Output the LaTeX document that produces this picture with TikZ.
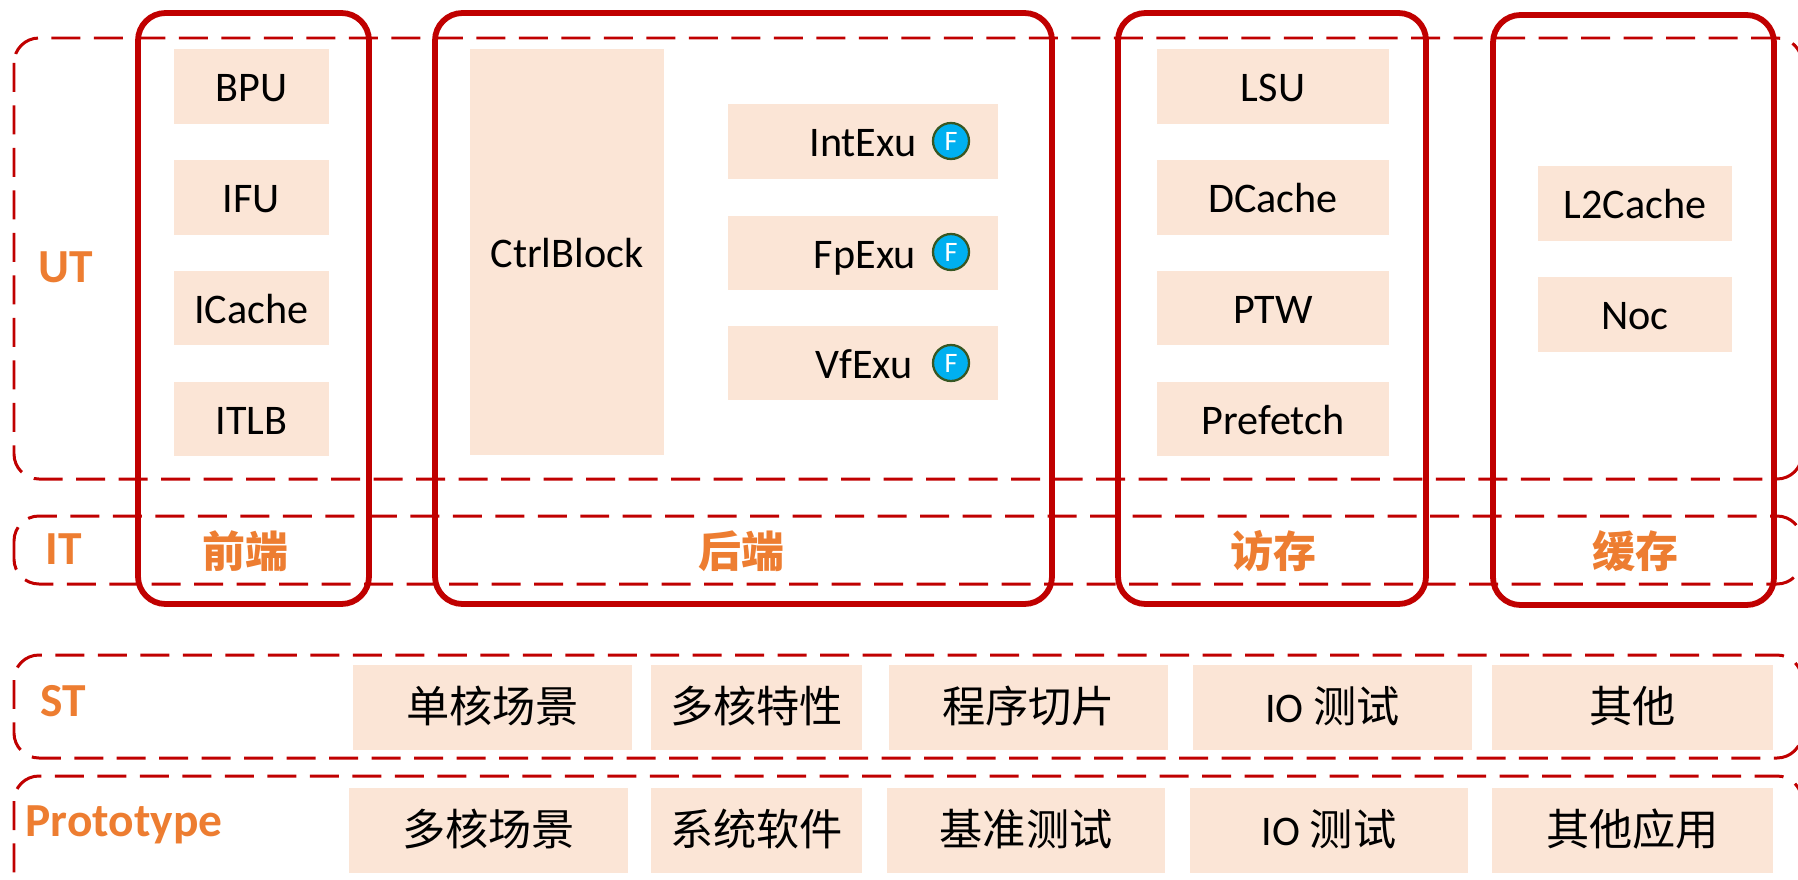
\documentclass[tikz,border=0pt]{standalone}
\usepackage{fontspec}
\setmainfont{Carlito}
\newfontfamily\cjk[Scale=1.025]{Noto Sans CJK SC}
\usepackage{xcolor}
\definecolor{framered}{HTML}{C00000}
\definecolor{boxfill}{HTML}{FBE5D6}
\definecolor{labelorange}{HTML}{ED7D31}
\definecolor{badgeblue}{HTML}{00B0F0}
\definecolor{badgeedge}{HTML}{385723}
\tikzset{%
	unitbox/.style   = {fill=boxfill, inner sep=0pt, text height=0.8cm, text depth=0.2cm, font=\fontsize{24}{28}\selectfont},
	frontbox/.style  = {unitbox, minimum width=3.1cm, minimum height=1.5cm},
	accessbox/.style = {unitbox, minimum width=4.64cm, minimum height=1.5cm},
	cachebox/.style  = {unitbox, minimum width=3.88cm, minimum height=1.5cm},
	exubox/.style    = {unitbox, minimum width=5.4cm, minimum height=1.5cm},
	scenebox/.style  = {unitbox, minimum width=5.58cm, minimum height=1.7cm},
	shortbox/.style  = {unitbox, minimum width=4.22cm, minimum height=1.7cm},
	unittext/.style  = {inner sep=0pt, text height=0.8cm, text depth=0.2cm, font=\fontsize{24}{28}\selectfont},
	levelname/.style = {inner sep=0pt, text=labelorange, font=\fontsize{27}{31}\selectfont\bfseries},
	groupname/.style = {inner sep=0pt, text=labelorange, font=\fontsize{23.85}{28}\selectfont\bfseries\cjk},
	badge/.style     = {circle, draw=badgeedge, fill=badgeblue, line width=1.3pt, minimum size=0.72cm, inner sep=0pt, text=white, font=\fontsize{16}{18}\selectfont},
	levelframe/.style = {draw=framered, line width=1.7pt, rounded corners=0.5cm, dash pattern=on 0.58cm off 0.27cm},
	groupframe/.style = {draw=framered, line width=3.3pt, rounded corners=0.55cm},
}
\begin{document}
\begin{tikzpicture}[x=0.02cm,y=-0.02cm]
		\useasboundingbox (0,0) rectangle (1798,879);
		% test levels
		\draw[levelframe] (14,38) rectangle (1802,479);
		\draw[levelframe] (14,516) rectangle (1802,584);
		\draw[levelframe] (14,655) rectangle (1802,758);
		\draw[levelframe] (14,776) rectangle (1802,900);
		\node[levelname] (ut) at (66,267) {UT};
		\node[levelname] (it) at (64,549) {IT};
		\node[levelname] (st) at (63,701) {ST};
		\node[levelname] (prototype) at (124,825) {Prototype};
		% groups
		\draw[groupframe] (138,13) rectangle (369,604);
		\draw[groupframe] (435,13) rectangle (1052,604);
		\draw[groupframe] (1118,13) rectangle (1426,604);
		\draw[groupframe] (1493,15) rectangle (1774,605);
		\node[groupname] (frontend) at (245,551) {前端};
		\node[groupname] (backend) at (741,551) {后端};
		\node[groupname] (memaccess) at (1273,551) {访存};
		\node[groupname] (cache) at (1635,551) {缓存};
		% frontend
		\node[frontbox] (bpu) at (251.5,86.5) {BPU};
		\node[frontbox] (ifu) at (251.5,197.5) {IFU};
		\node[frontbox] (icache) at (251.5,308) {ICache};
		\node[frontbox] (itlb) at (251.5,419) {ITLB};
		% backend
		\node[unitbox, minimum width=3.88cm, minimum height=8.12cm] (ctrlblock) at (567,252) {CtrlBlock};
		\node[exubox] (intexu) at (863,141.5) {};
		\node[exubox] (fpexu) at (863,253) {};
		\node[exubox] (vfexu) at (863,363) {};
		\node[unittext] (intexutext) at (863,141.5) {IntExu};
		\node[unittext] (fpexutext) at (865,253) {FpExu};
		\node[unittext] (vfexutext) at (864,363) {VfExu};
		\node[badge] (intf) at (951,141) {F};
		\node[badge] (fpf) at (951,252) {F};
		\node[badge] (vff) at (951,363) {F};
		% memory access
		\node[accessbox] (lsu) at (1273,86.5) {LSU};
		\node[accessbox] (dcache) at (1273,197.5) {DCache};
		\node[accessbox] (ptw) at (1273,308) {PTW};
		\node[accessbox] (prefetch) at (1273,419) {Prefetch};
		% cache
		\node[cachebox] (ltwocache) at (1635,203.5) {L2Cache};
		\node[cachebox] (noc) at (1635,314.5) {Noc};
		% ST row
		\node[scenebox] (stsingle) at (492.5,707) {\cjk 单核场景};
		\node[shortbox] (stmulti) at (756.5,707) {\cjk 多核特性};
		\node[scenebox] (stslice) at (1028.5,707) {\cjk 程序切片};
		\node[scenebox] (stio) at (1332.5,707) {IO {\cjk 测试}};
		\node[scenebox, minimum width=5.62cm] (stother) at (1632.5,707) {\cjk 其他};
		% Prototype row
		\node[scenebox] (promulti) at (488.5,830.5) {\cjk 多核场景};
		\node[shortbox] (prosoft) at (756.5,830.5) {\cjk 系统软件};
		\node[scenebox] (probench) at (1026,830.5) {\cjk 基准测试};
		\node[scenebox] (proio) at (1329,830.5) {IO {\cjk 测试}};
		\node[scenebox, minimum width=5.62cm] (proapp) at (1632.5,830.5) {\cjk 其他应用};
\end{tikzpicture}
\end{document}
